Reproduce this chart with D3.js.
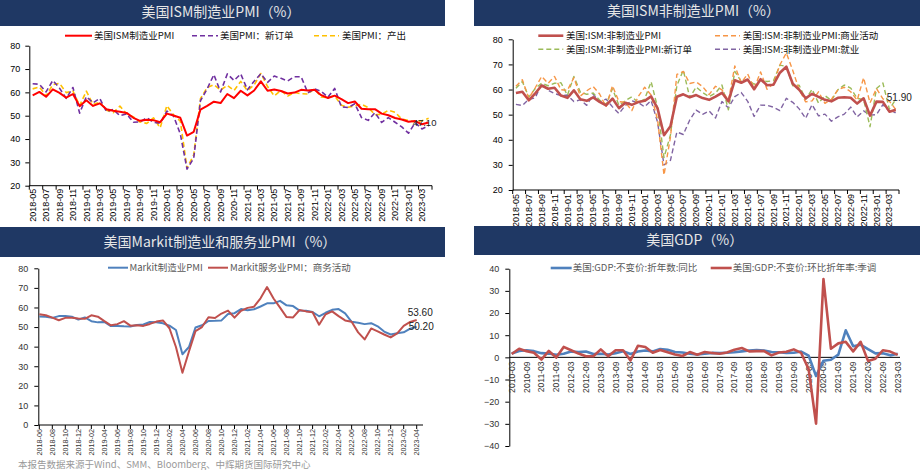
<!DOCTYPE html>
<html><head><meta charset="utf-8">
<script src="https://cdn.jsdelivr.net/npm/d3@7"></script>
<style>body{margin:0;background:#fff}svg{display:block}</style>
</head><body><svg id="c" width="921" height="470"></svg>
<script>
// ---------- DATA ----------
// Panel 1: ISM manufacturing, 2018-05 .. 2023-04
const ismMfg = [58.7,60.2,58.1,61.3,59.8,57.7,59.3,54.1,
 56.6,54.2,55.3,52.8,52.1,51.7,51.2,49.1,47.8,48.3,48.1,47.2,
 50.9,50.1,49.1,41.5,43.1,52.6,54.2,56.0,55.4,59.3,57.5,60.7,
 58.7,60.8,64.7,60.7,61.2,60.6,59.5,59.9,61.1,60.8,61.1,58.8,
 57.6,58.6,57.1,55.4,56.1,53.0,52.8,52.8,50.9,50.2,49.0,48.4,
 47.4,47.7,46.3,47.1];
const ismMfgNewOrders = [63.7,63.5,60.2,65.1,61.8,57.4,62.1,51.1,
 58.2,55.5,57.4,51.7,52.7,50.0,50.8,47.2,47.3,49.1,47.2,46.8,
 52.0,49.8,42.2,27.1,31.8,56.4,61.5,67.6,60.2,67.9,65.1,67.9,
 61.1,64.8,68.0,64.3,67.0,66.0,64.9,66.7,66.7,59.8,61.5,60.4,
 57.9,61.7,53.8,53.5,55.1,49.2,48.0,51.3,47.1,49.2,47.2,45.2,
 42.5,47.0,44.3,45.7];
const ismMfgProduction = [61.5,62.3,58.5,63.3,63.9,59.9,60.6,54.3,
 60.5,54.8,55.8,52.3,51.3,54.1,50.8,49.5,47.3,46.7,49.1,44.8,
 54.3,50.3,47.7,27.5,33.2,57.3,62.1,63.3,61.0,63.0,60.8,64.7,
 60.7,63.2,68.1,62.5,58.5,60.8,58.4,60.0,59.4,59.3,61.5,58.0,
 57.8,58.5,54.5,53.6,54.2,54.9,53.5,50.4,50.6,52.3,51.5,48.5,
 48.0,47.3,47.8,48.9];
// Panel 2: ISM non-manufacturing, 2018-05 .. 2023-04
const ismSvc = [58.6,59.1,55.7,58.5,61.6,60.3,60.7,57.6,
 56.7,59.7,56.1,55.5,56.9,55.1,53.7,56.4,52.6,54.7,53.9,55.0,
 55.5,57.3,52.5,41.8,45.4,57.1,58.1,56.9,57.8,56.6,55.9,57.2,
 58.7,55.3,63.7,62.7,64.0,60.1,64.1,61.7,61.9,66.7,69.1,62.3,
 59.9,56.5,58.3,57.1,55.9,55.3,56.7,56.9,56.7,54.4,56.5,49.6,
 55.2,55.1,51.2,51.9];
const ismSvcBusiness = [61.3,63.9,56.5,60.7,65.2,62.5,65.2,59.9,
 59.7,64.7,57.4,59.5,61.2,58.2,53.1,61.5,55.2,54.9,51.6,57.2,
 60.9,57.8,48.0,26.0,41.0,66.0,67.2,62.4,63.0,61.2,58.0,61.3,
 59.9,55.5,69.4,62.7,66.2,60.4,67.0,60.1,62.3,69.8,74.6,67.6,
 59.9,55.1,55.5,59.1,54.5,56.1,59.9,60.9,59.1,55.7,64.7,54.7,
 60.4,56.3,55.4,52.0];
const ismSvcNewOrders = [60.5,63.2,57.0,60.4,62.5,61.5,62.5,62.7,
 57.7,65.2,59.0,58.1,58.6,55.8,54.1,60.3,53.7,55.6,57.1,54.9,
 56.2,63.1,52.9,32.9,41.9,61.6,67.7,56.8,61.0,58.8,57.2,58.6,
 61.8,51.9,67.2,63.2,63.9,62.1,63.7,63.2,63.5,69.7,69.2,61.5,
 61.7,56.1,60.1,54.6,57.6,55.6,59.9,61.8,60.6,56.5,56.0,45.2,
 60.4,62.6,52.2,56.1];
const ismSvcEmployment = [54.1,53.6,56.1,56.7,62.4,59.7,58.4,57.6,
 57.8,55.2,55.9,53.7,58.1,55.0,56.2,53.1,50.4,53.7,55.5,54.8,
 53.1,55.6,47.0,30.0,31.8,43.1,42.1,47.9,51.8,50.1,51.5,48.7,
 55.2,52.7,57.2,58.8,55.3,49.3,53.8,53.7,53.0,51.6,56.5,54.9,
 52.3,48.5,54.0,49.5,50.2,47.4,49.1,50.2,53.0,49.1,51.5,49.8,
 50.0,54.0,51.3,50.8];
// Panel 3: Markit, 2018-06 .. 2023-04
const markitMfg = [55.4,55.3,54.7,55.6,55.7,55.3,53.8,
 54.9,53.0,52.4,52.6,50.5,50.6,50.4,50.3,51.1,51.3,52.6,52.4,
 51.9,50.7,48.5,36.1,39.8,49.8,50.9,53.1,53.2,53.4,56.7,57.1,
 59.2,58.6,59.1,60.5,62.1,62.1,63.4,61.1,60.7,58.4,58.3,57.7,
 55.5,57.3,58.8,59.2,57.0,52.7,52.2,51.5,52.0,50.4,47.7,46.2,
 46.9,47.3,49.2,50.2];
const markitSvc = [56.5,56.0,54.8,53.5,54.7,54.7,54.4,
 54.2,56.0,55.3,53.0,50.9,51.5,53.0,50.7,50.9,50.6,51.6,52.8,
 53.4,49.4,39.8,26.7,37.5,47.9,50.0,55.0,54.6,56.9,58.4,54.8,
 58.3,59.8,60.4,64.7,70.4,64.6,59.9,55.1,54.9,58.7,58.0,57.6,
 51.2,56.5,58.0,55.6,53.4,52.7,47.3,43.7,49.3,47.8,46.2,44.7,
 46.8,50.6,52.6,53.6];
// Panel 4: GDP quarterly, 2010-03 .. 2023-03
const gdpYoY = [1.7,2.9,3.2,2.8, 1.9,1.7,1.2,1.6, 2.6,2.4,2.6,1.5, 1.6,1.3,1.9,2.8,
 1.5,2.6,3.1,2.7, 3.8,3.4,2.4,2.2, 1.6,1.3,1.6,2.0, 1.9,2.1,2.3,2.7, 3.1,3.3,3.1,2.4,
 2.3,2.0,2.1,2.6, 0.8,-8.4,-1.5,-1.1, 1.2,12.2,5.0,5.7, 3.7,1.8,1.9,0.9, 1.6];
const gdpQoQ = [1.5,3.9,2.8,2.1, -1.0,2.9,-0.1,4.7, 3.2,1.7,0.5,0.5, 3.6,0.5,3.2,3.2,
 -1.4,5.2,4.7,2.1, 3.3,2.3,1.3,0.6, 2.4,1.2,2.4,2.0, 1.6,2.2,3.4,4.2, 2.7,2.8,2.8,0.9,
 2.2,2.5,3.6,2.0, -5.3,-29.9,35.3,3.9, 6.3,7.0,2.7,7.0, -1.6,-0.6,3.2,2.6, 1.1];

// tick values
const pmiTicks = [20,30,40,50,60,70,80];
const markitTicks = [0,10,20,30,40,50,60,70,80];
const gdpTicks = [-40,-30,-20,-10,0,10,20,30,40];

function periods(y, m, n, step){const a=[];for(let i=0;i<n;i++){a.push(y+"-"+String(m).padStart(2,"0"));m+=step;while(m>12){m-=12;y++;}}return a;}
const cats1 = periods(2018,5,60,1);
const cats3 = periods(2018,6,59,1);
const catsQ = periods(2010,3,53,3);

// ---------- DRAW ----------
const svg = d3.select("#c");
const FONT = "'Liberation Sans', Arial, 'Noto Sans CJK SC', sans-serif";
const CJK = "'Noto Sans CJK SC', 'Liberation Sans', sans-serif";
const NAVY = "#1f3864";

function titleBar(x, y, w, h, text, cx, cy){
  svg.append("rect").attr("x",x).attr("y",y).attr("width",w).attr("height",h).attr("fill",NAVY);
  svg.append("text").attr("x",cx).attr("y",cy).attr("dy","0.35em").attr("text-anchor","middle")
    .attr("font-family",CJK).attr("font-size",14).attr("fill","#e6e6e6").text(text);
}

function panel(o){
  const g = svg.append("g");
  let x, pos;
  if (o.band){ x = d3.scaleBand().domain(o.cats).range([o.x0,o.x1]); pos = c => x(c)+x.bandwidth()/2; }
  else { x = d3.scalePoint().domain(o.cats).range([o.p0,o.p1]); pos = c => x(c); }
  const y = d3.scaleLinear().domain(o.yDomain).range([o.yBot,o.yTop]);
  // y axis
  const ya = g.append("g").attr("transform",`translate(${o.x0},0)`)
    .call(d3.axisLeft(y).tickValues(o.yTicks).tickSize(4).tickSizeOuter(0).tickPadding(o.yPad||4).tickFormat(d3.format("d")));
  ya.selectAll("path,line").attr("stroke","#000").attr("stroke-width",1);
  ya.selectAll("text").attr("font-family",FONT).attr("font-size",9).attr("fill",o.tickColor||"#000");
  // x axis line
  const ax = o.axisAt!==undefined ? y(o.axisAt) : o.yBot;
  g.append("line").attr("x1",o.x0).attr("x2",o.xEnd).attr("y1",ax).attr("y2",ax).attr("stroke","#000");
  const labIdx = o.cats.map((c,i)=>i).filter(i=>i%o.step===0);
  // ticks
  if (o.tickMode==="band"){
    const tx = labIdx.map(i=>x(o.cats[i])).concat([o.x1]);
    g.selectAll(null).data(tx).enter().append("line").attr("x1",d=>d).attr("x2",d=>d)
      .attr("y1",ax).attr("y2",ax+4).attr("stroke","#000");
  } else if (o.tickMode==="point"){
    g.selectAll(null).data(labIdx).enter().append("line").attr("x1",i=>pos(o.cats[i])).attr("x2",i=>pos(o.cats[i]))
      .attr("y1",ax).attr("y2",ax+4).attr("stroke","#000");
  }
  // labels
  g.selectAll(null).data(labIdx).enter().append("text")
    .attr("transform",i=>`translate(${pos(o.cats[i])},${ax}) rotate(-90)`)
    .attr("x",-(o.labOff||4)).attr("y",0).attr("dy","0.35em").attr("text-anchor","end")
    .attr("font-family",FONT).attr("font-size",o.labSize||9).attr("fill",o.tickColor||"#000")
    .text(i=>o.cats[i]);
  // series
  o.series.forEach(s=>{
    const line = d3.line().x((d,i)=>pos(o.cats[i])).y(d=>y(d));
    g.append("path").datum(s.values).attr("d",line).attr("fill","none")
      .attr("stroke",s.color).attr("stroke-width",s.width).attr("stroke-dasharray",s.dash||null)
      .attr("stroke-linejoin","round");
  });
  // end labels
  (o.endLabels||[]).forEach(l=>{
    const v = l.values[l.values.length-1];
    const px = pos(o.cats[o.cats.length-1]);
    g.append("text").attr("x",px+l.dx).attr("y",y(v)+l.dy).attr("dy","0.35em")
      .attr("font-family",FONT).attr("font-size",l.size||9.5).attr("fill","#222").text(v.toFixed(2));
  });
  // legend
  (o.legend||[]).forEach(L=>{
    g.append("line").attr("x1",L.x1).attr("x2",L.x2).attr("y1",L.y).attr("y2",L.y)
      .attr("stroke",L.color).attr("stroke-width",L.width).attr("stroke-dasharray",L.dash||null);
    g.append("text").attr("x",L.tx).attr("y",L.y).attr("dy","0.35em").attr("font-family",CJK)
      .attr("font-size",L.size||9.5).attr("fill",L.tc||"#111").text(L.text);
  });
}

// Panel 1
titleBar(0,0,445,26,"美国ISM制造业PMI（%）",221,12.5);
panel({band:true,cats:cats1,x0:29.3,x1:432,xEnd:432,yDomain:[20,80],yTop:45.7,yBot:185.7,yTicks:pmiTicks,
  step:2,tickMode:"band",labOff:3,yPad:5,
  series:[
    {values:ismMfgProduction,color:"#ffc000",width:1.6,dash:"5,3"},
    {values:ismMfgNewOrders,color:"#7030a0",width:1.6,dash:"5,3"},
    {values:ismMfg,color:"#ff0000",width:2}],
  endLabels:[{values:ismMfg,dx:-16,dy:0}],
  legend:[
    {x1:65,x2:92,tx:94,y:35.7,color:"#ff0000",width:2,text:"美国ISM制造业PMI"},
    {x1:192,x2:218,tx:220,y:35.7,color:"#7030a0",width:1.6,dash:"5,3",text:"美国PMI：新订单"},
    {x1:314,x2:339,tx:342,y:35.7,color:"#ffc000",width:1.6,dash:"5,3",text:"美国PMI：产出"}]
});
svg.append("rect").attr("x",0).attr("y",227).attr("width",445).attr("height",3).attr("fill",NAVY);

// Panel 2
titleBar(474,0,446,26,"美国ISM非制造业PMI（%）",693.5,11.5);
panel({band:true,cats:cats1,x0:512.7,x1:899,xEnd:899,yDomain:[20,80],yTop:39.3,yBot:190,yTicks:pmiTicks,
  step:2,tickMode:"band",labOff:4,yPad:6,
  series:[
    {values:ismSvcEmployment,color:"#8064a2",width:1.4,dash:"5,3"},
    {values:ismSvcNewOrders,color:"#9bbb59",width:1.4,dash:"5,3"},
    {values:ismSvcBusiness,color:"#f79646",width:1.4,dash:"5,3"},
    {values:ismSvc,color:"#c0504d",width:2.6}],
  endLabels:[{values:ismSvc,dx:-9,dy:-12.5,size:10}],
  legend:[
    {x1:538.3,x2:563.3,tx:566,y:35.7,color:"#c0504d",width:2.6,text:"美国:ISM:非制造业PMI"},
    {x1:715,x2:740,tx:742.7,y:35.7,color:"#f79646",width:1.4,dash:"5,3",text:"美国:ISM:非制造业PMI:商业活动"},
    {x1:538.3,x2:563.3,tx:566,y:49.3,color:"#9bbb59",width:1.4,dash:"5,3",text:"美国:ISM:非制造业PMI:新订单"},
    {x1:715,x2:740,tx:742.7,y:49.3,color:"#8064a2",width:1.4,dash:"5,3",text:"美国:ISM:非制造业PMI:就业"}]
});
svg.append("rect").attr("x",474).attr("y",226).attr("width",446).attr("height",3).attr("fill",NAVY);

// Panel 3
titleBar(0,227,445,30,"美国Markit制造业和服务业PMI（%）",220,242.3);
panel({band:false,cats:cats3,x0:38.3,p0:39.3,p1:416.7,xEnd:423,yDomain:[0,80],yTop:268.3,yBot:425,yTicks:markitTicks,
  step:2,tickMode:"point",labOff:4,labSize:7.2,yPad:6,tickColor:"#333",
  series:[
    {values:markitMfg,color:"#4f81bd",width:2},
    {values:markitSvc,color:"#c0504d",width:2}],
  endLabels:[{values:markitSvc,dx:-9,dy:-8,size:10},{values:markitMfg,dx:-8,dy:0,size:10}],
  legend:[
    {x1:108,x2:128,tx:129.5,y:267.7,color:"#4f81bd",width:2,text:"Markit制造业PMI",tc:"#595959"},
    {x1:208,x2:228,tx:230,y:267.7,color:"#c0504d",width:2,text:"Markit服务业PMI：商务活动",tc:"#595959"}]
});

// Panel 4
titleBar(474,227,446,28,"美国GDP（%）",694.7,240);
panel({band:false,cats:catsQ,x0:509.3,p0:511.7,p1:897.7,xEnd:900,yDomain:[-40,40],yTop:268.7,yBot:446,yTicks:gdpTicks,
  step:2,tickMode:"none",labOff:4,labSize:8.6,yPad:6,axisAt:0,tickColor:"#333",
  series:[
    {values:gdpYoY,color:"#4f81bd",width:2.6},
    {values:gdpQoQ,color:"#c0504d",width:2.6}],
  legend:[
    {x1:550.7,x2:571.7,tx:572.7,y:268,color:"#4f81bd",width:2.6,text:"美国:GDP:不变价:折年数:同比",tc:"#595959"},
    {x1:710.7,x2:731.7,tx:732.7,y:268,color:"#c0504d",width:2.6,text:"美国:GDP:不变价:环比折年率:季调",tc:"#595959"}]
});

// source note at the very bottom
svg.append("text").attr("x",18).attr("y",468).attr("font-family",CJK).attr("font-size",9.5).attr("fill","#999")
  .text("本报告数据来源于Wind、SMM、Bloomberg、中辉期货国际研究中心");
</script></body></html>
